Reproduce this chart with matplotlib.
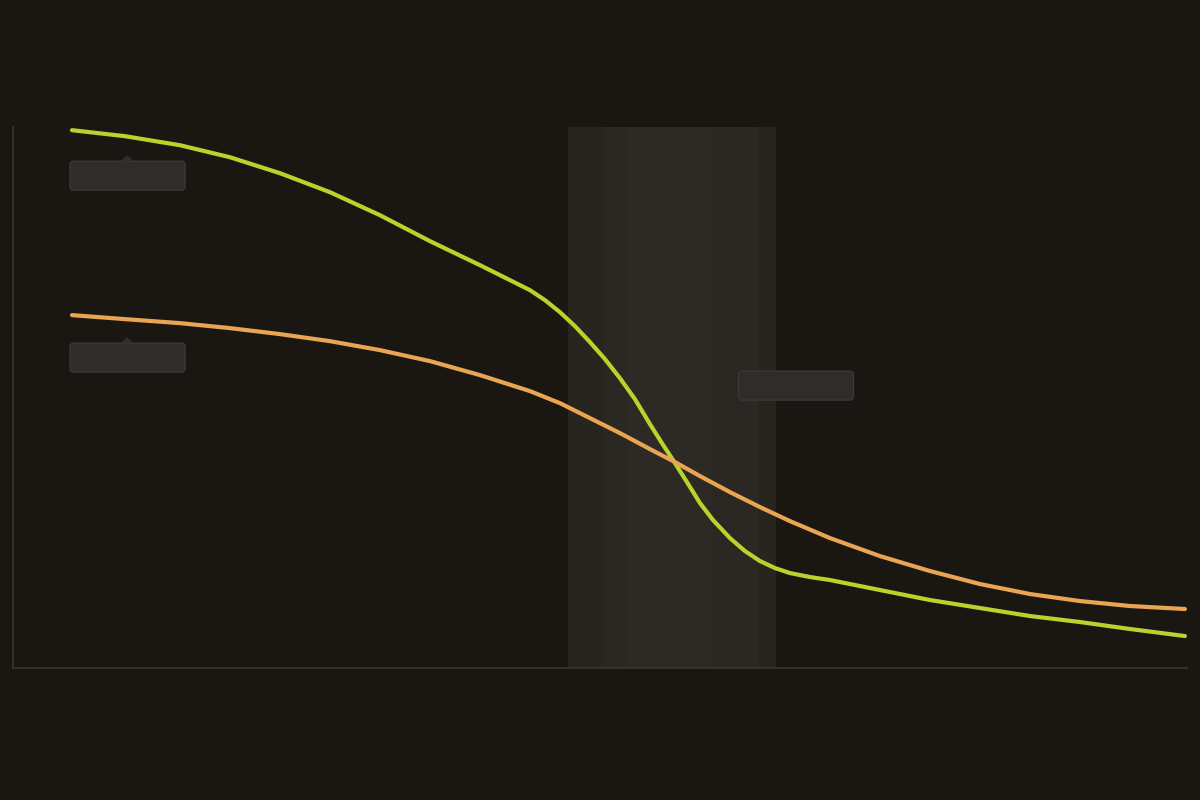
import matplotlib
matplotlib.use("Agg")
import matplotlib.pyplot as plt
import matplotlib.transforms as mtransforms
from matplotlib.patches import FancyBboxPatch, Polygon

# values (x in % of span, y in % of height)
green_x = [5.03, 9.54, 14.22, 18.48, 22.74, 27.0, 31.26, 35.52, 39.78, 44.04,
           45.32, 46.59, 47.87, 49.15, 50.43, 51.70, 52.98, 54.26, 55.28, 56.39,
           57.41, 58.52, 59.63, 61.07, 62.35, 63.63, 64.91, 66.18, 67.89, 69.59,
           73.85, 78.11, 82.37, 86.63, 90.89, 95.15, 99.83]
green_vals = [99.45, 98.34, 96.67, 94.45, 91.50, 87.99, 83.73, 78.93, 74.49, 69.87,
              68.02, 65.80, 63.22, 60.26, 57.12, 53.60, 49.72, 45.10, 41.59, 37.89,
              34.38, 30.50, 27.36, 24.03, 21.63, 19.78, 18.48, 17.56, 16.82, 16.27,
              14.42, 12.57, 11.09, 9.61, 8.50, 7.21, 5.91]
orange_x = [5.03, 9.54, 14.22, 18.48, 22.74, 27.0, 31.26, 35.52, 39.78, 44.04,
            46.59, 49.15, 51.70, 54.26, 56.39, 58.52, 61.07, 63.63, 66.18, 69.59,
            73.85, 78.11, 82.37, 86.63, 90.89, 95.15, 99.83]
orange_vals = [65.25, 64.51, 63.77, 62.85, 61.74, 60.44, 58.78, 56.75, 54.16, 51.20,
               48.98, 46.21, 43.44, 40.48, 38.08, 35.49, 32.53, 29.76, 27.17, 24.03,
               20.70, 17.93, 15.53, 13.68, 12.38, 11.46, 10.91]
band = (47.27, 64.99)
box3_anchor = (61.8, 54.9)

bg = '#1a1712'
green = '#b8d32c'
orange = '#e9a552'
box_col = '#2f2d2a'
box_edge = '#3b3935'

fig = plt.figure(figsize=(12, 8), dpi=100, facecolor=bg)
ax = fig.add_axes([0.0108, 0.165, 0.9783, 0.676])
ax.set_facecolor(bg)

# highlighted band, a little lighter in the middle
ax.axvspan(band[0], band[1], color='#28251f', zorder=1, lw=0)
ax.axvspan(band[0] + 3.0, band[1] - 1.5, color='#2b2823', zorder=1, lw=0)
ax.axvspan(band[0] + 5.0, band[1] - 5.5, color='#2d2a25', zorder=1, lw=0)

ax.plot(green_x, green_vals, color=green, lw=3.0, solid_capstyle='round',
        solid_joinstyle='round', zorder=3)
ax.plot(orange_x, orange_vals, color=orange, lw=3.0, solid_capstyle='round',
        solid_joinstyle='round', zorder=3)

ax.set_xlim(0, 100)
ax.set_ylim(0, 100)
ax.set_xticks([])
ax.set_yticks([])
for s in ['top', 'right']:
    ax.spines[s].set_visible(False)
for s in ['left', 'bottom']:
    ax.spines[s].set_color('#3a3733')
    ax.spines[s].set_linewidth(1.2)


def label_box(x, y, dx, dy, pointer):
    # box placed in inches relative to a data point
    tr = fig.dpi_scale_trans + mtransforms.ScaledTranslation(x, y, ax.transData)
    b = FancyBboxPatch((dx, dy), 1.15, 0.29, boxstyle='round,pad=0,rounding_size=0.04',
                       transform=tr, facecolor=box_col, edgecolor=box_edge, lw=1, zorder=4)
    ax.add_patch(b)
    if pointer:
        tip = Polygon([(dx + 0.50, dy + 0.29), (dx + 0.57, dy + 0.35), (dx + 0.64, dy + 0.29)],
                      closed=True, transform=tr, facecolor=box_col, edgecolor='none', zorder=4)
        ax.add_patch(tip)


label_box(green_x[0], green_vals[0], -0.02, -0.60, True)
label_box(orange_x[0], orange_vals[0], -0.02, -0.57, True)
label_box(box3_anchor[0], box3_anchor[1], 0, -0.29, False)

fig.savefig('out.png', dpi=100, facecolor=bg)
